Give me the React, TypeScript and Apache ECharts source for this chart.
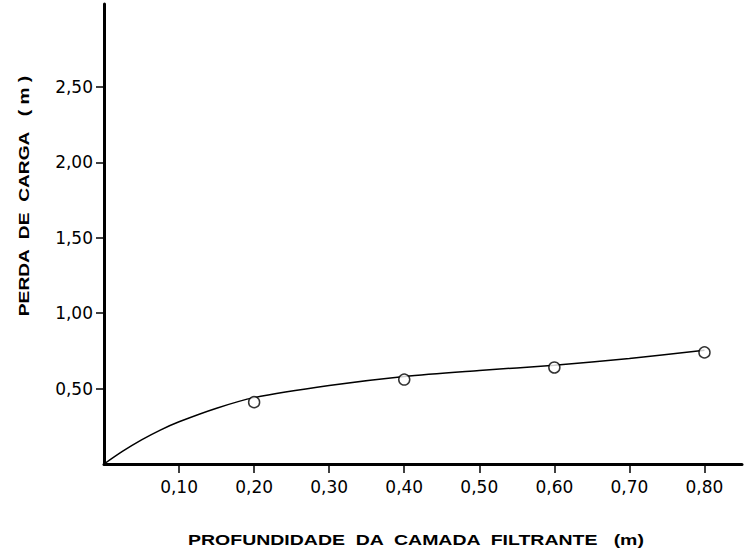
import React, { useEffect, useRef } from "react";
import * as echarts from "echarts";

const xTicks = [0.1, 0.2, 0.3, 0.4, 0.5, 0.6, 0.7, 0.8];
const yTicks = [0.5, 1.0, 1.5, 2.0, 2.5];

const pointX = [0.2, 0.4, 0.6, 0.8];
const pointY = [0.41, 0.56, 0.64, 0.74];

const curveX = [0, 0.025, 0.05, 0.075, 0.1, 0.15, 0.2, 0.3, 0.4, 0.5, 0.6, 0.7, 0.8];
const curveY = [0, 0.085, 0.16, 0.225, 0.28, 0.37, 0.44, 0.52, 0.58, 0.62, 0.655, 0.7, 0.755];

const xTitle = "PROFUNDIDADE  DA  CAMADA  FILTRANTE   (m)";
const yTitle = "PERDA  DE  CARGA   ( m )";

const fmt = (v: number) => v.toFixed(2).replace(".", ",");

export default function App() {
  const ref = useRef<HTMLDivElement>(null);
  useEffect(() => {
    if (!ref.current) return;
    const chart = echarts.init(ref.current, null, { renderer: "svg" });
    const font = "DejaVu Sans, sans-serif";
    const tfont = "Liberation Sans, Arial, sans-serif";
    chart.setOption({
      animation: false,
      backgroundColor: "#ffffff",
      grid: { left: 104, right: 3, top: 4, bottom: 89 },
      xAxis: {
        type: "value",
        min: 0,
        max: 0.85,
        axisLine: { show: true, lineStyle: { color: "#000", width: 3 } },
        axisTick: { show: true, length: 9, lineStyle: { color: "#000", width: 1.5 }, customValues: xTicks },
        axisLabel: {
          customValues: xTicks,
          formatter: (v: number) => fmt(v),
          color: "#000",
          fontSize: 17,
          fontFamily: font,
          margin: 14,
        },
        splitLine: { show: false },
      },
      yAxis: {
        type: "value",
        min: 0,
        max: 3.05,
        axisLine: { show: true, lineStyle: { color: "#000", width: 3 } },
        axisTick: { show: true, length: 8, lineStyle: { color: "#000", width: 1.5 }, customValues: yTicks },
        axisLabel: {
          customValues: yTicks,
          formatter: (v: number) => fmt(v),
          color: "#000",
          fontSize: 17,
          fontFamily: font,
          margin: 11,
        },
        splitLine: { show: false },
      },
      graphic: [
        {
          type: "text",
          x: 416,
          y: 540,
          scaleX: 1.3,
          style: {
            text: xTitle,
            fill: "#000",
            font: `bold 15px ${tfont}`,
            align: "center",
            verticalAlign: "middle",
          },
        },
        {
          type: "text",
          x: 24,
          y: 196,
          rotation: Math.PI / 2,
          scaleX: 1.37,
          style: {
            text: yTitle,
            fill: "#000",
            font: `bold 14px ${tfont}`,
            align: "center",
            verticalAlign: "middle",
          },
        },
      ],
      series: [
        {
          type: "line",
          data: curveX.map((x, i) => [x, curveY[i]]),
          smooth: 0.3,
          showSymbol: false,
          lineStyle: { color: "#000", width: 1.5 },
          z: 2,
        },
        {
          type: "scatter",
          data: pointX.map((x, i) => [x, pointY[i]]),
          symbol: "circle",
          symbolSize: 11,
          itemStyle: { color: "#fff", borderColor: "#000", borderWidth: 1.5 },
          z: 3,
        },
      ],
    });
    return () => chart.dispose();
  }, []);
  return <div ref={ref} style={{ width: 745, height: 553, position: "absolute", left: 0, top: 0 }} />;
}
